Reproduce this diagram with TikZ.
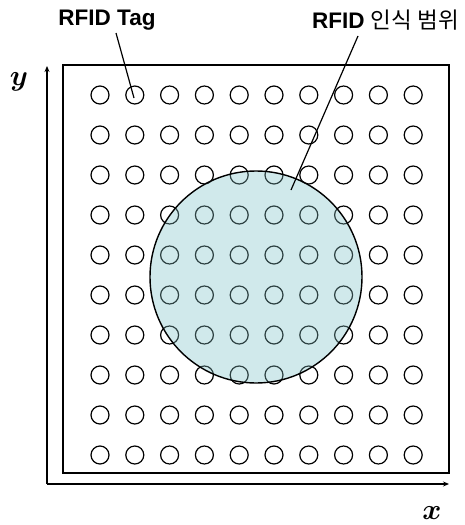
\documentclass[tikz,border=0pt]{standalone}
\usepackage{fontspec}
\setmainfont{Liberation Sans}
\newfontfamily\krfont{Noto Sans CJK KR}
\usepackage{amsmath}
\usetikzlibrary{arrows.meta}
\definecolor{rangefill}{RGB}{208,233,235}
\definecolor{innertag}{RGB}{45,65,66}
\begin{document}
\begin{tikzpicture}[x=1pt,y=-1pt,
  tag/.style={draw=black,line width=1.2pt,circle,minimum size=18pt,inner sep=0pt},
  frame/.style={draw=black,line width=1.4pt},
  axis/.style={draw=black,line width=1.2pt,-{Stealth[length=6pt,width=5pt]}},
  leader/.style={draw=black,line width=1.2pt},
  axlbl/.style={scale=2.9,inner sep=0pt},
  lbl/.style={font=\fontsize{22.5}{24}\selectfont\bfseries,inner sep=0pt}]
\useasboundingbox (0,0) rectangle (464,525);
\node[frame,minimum width=386pt,minimum height=408pt,inner sep=0pt] (box) at (256,269) {};
\coordinate (o) at (47,484);
\coordinate (ytip) at (47,66);
\coordinate (xtip) at (449,484);
\draw[axis] (o) -- (ytip);
\draw[axis] (o) -- (xtip);
\node[axlbl] (ylab) at (19,82) {$\boldsymbol{y}$};
\node[axlbl] (xlab) at (432,513) {$\boldsymbol{x}$};
\foreach \i [evaluate=\i as \cx using {100+(\i-1)*34.8}] in {1,...,10}{
  \foreach \j [evaluate=\j as \cy using {95+(\j-1)*40}] in {1,...,10}{
    \node[tag] (t-\i-\j) at (\cx,\cy) {};
  }
}
\node[circle,fill=rangefill,minimum size=212pt,inner sep=0pt] (range) at (256,277) {};
\begin{scope}
  \clip (range.center) circle (106pt);
  \foreach \i [evaluate=\i as \cx using {100+(\i-1)*34.8}] in {1,...,10}{
    \foreach \j [evaluate=\j as \cy using {95+(\j-1)*40}] in {1,...,10}{
      \draw[innertag,line width=1.2pt] (\cx,\cy) circle (9pt);
    }
  }
\end{scope}
\draw[black,line width=1.4pt] (range.center) circle (106pt);
\node[lbl] (taglab) at (107,20) {RFID Tag};
\node[lbl,anchor=east] (rangelab) at (459,20) {RFID {\krfont\mdseries 인식 범위}};
\coordinate (tagstart) at (116,33);
\coordinate (tagend) at (134,98);
\coordinate (rangestart) at (358,36);
\coordinate (rangeend) at (291,190);
\draw[leader] (tagstart) -- (tagend);
\draw[leader] (rangestart) -- (rangeend);
\end{tikzpicture}
\end{document}
